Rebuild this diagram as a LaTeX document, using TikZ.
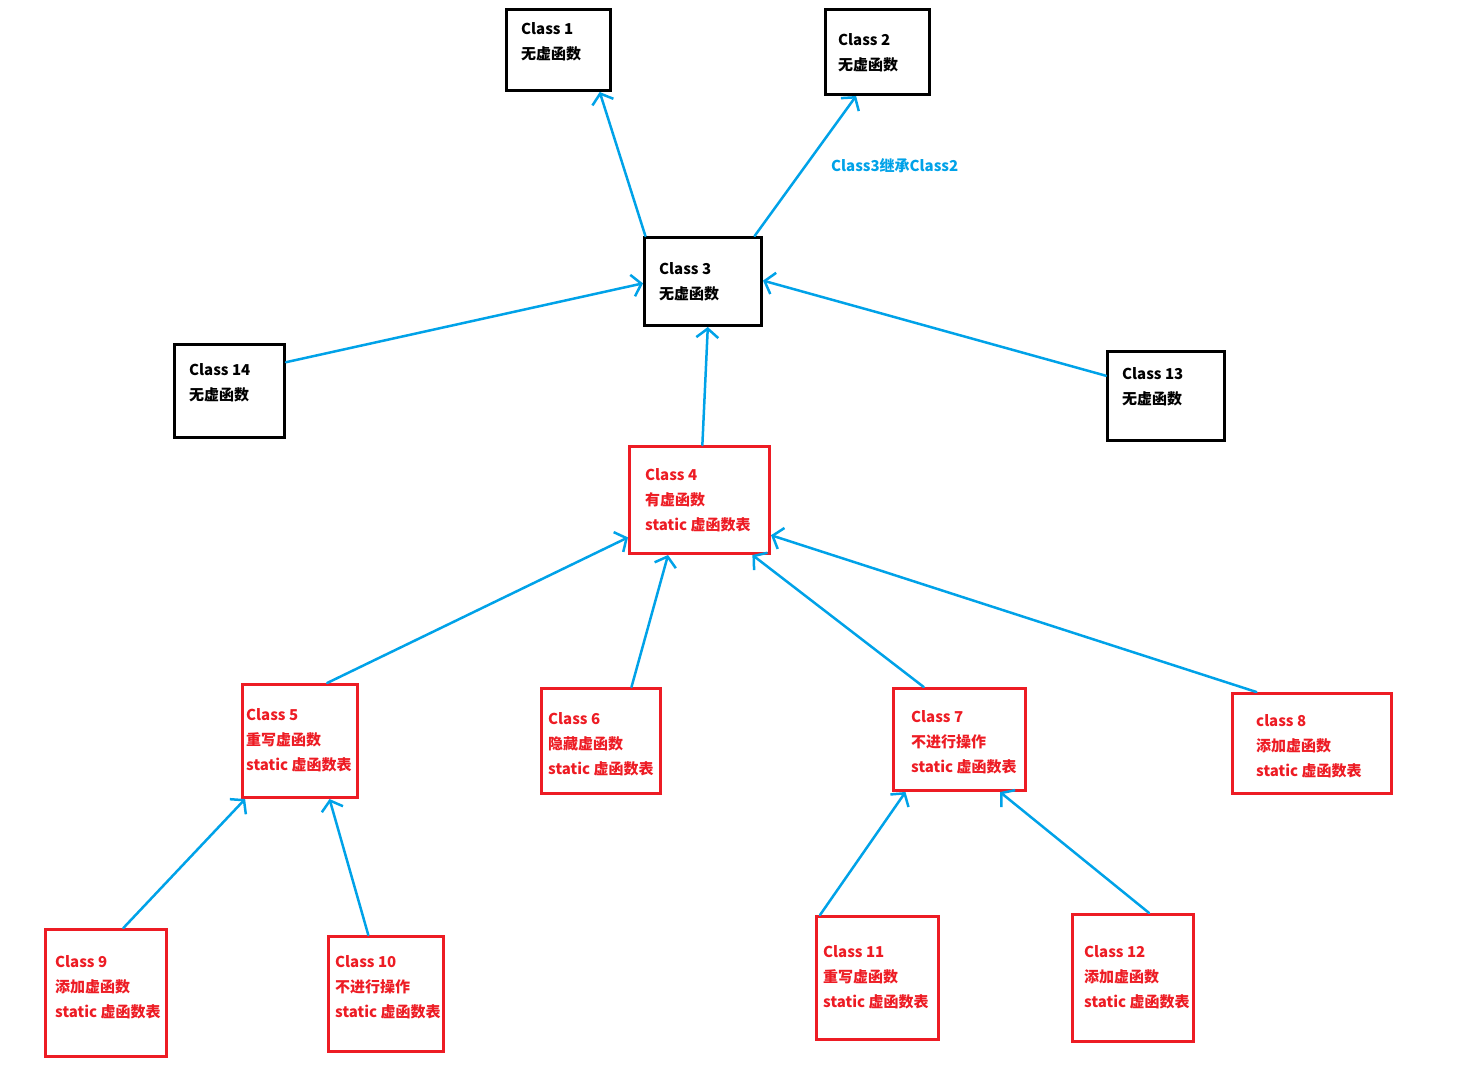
\documentclass[tikz,border=0pt]{standalone}
\usepackage{fontspec}
\setmainfont{Noto Sans CJK SC}
\usetikzlibrary{arrows.meta,calc}
\definecolor{boxred}{RGB}{237,28,36}
\definecolor{linkblue}{RGB}{0,162,232}
\tikzset{
  bbox/.style={draw=black, line width=3pt, rectangle, inner sep=0pt, anchor=north west},
  rbox/.style={bbox, draw=boxred},
  btxt/.style={anchor=north west, inner sep=0pt, align=left, font=\bfseries\fontsize{15}{25}\selectfont},
  rtxt/.style={btxt, text=boxred},
  link/.style={draw=linkblue, line width=2.5pt, line cap=round, -{Straight Barb[length=9pt,width=22pt,line width=2.5pt]}},
}
\begin{document}
\begin{tikzpicture}[x=1pt,y=-1pt]
\useasboundingbox (0,0) rectangle (1460,1088);
% black boxes
\node[bbox, minimum width=104pt, minimum height=81pt] (c1) at (505,8) {};
\node[bbox, minimum width=104pt, minimum height=85pt] (c2) at (824,8) {};
\node[bbox, minimum width=117pt, minimum height=88pt] (c3) at (643,236) {};
\node[bbox, minimum width=110pt, minimum height=93pt] (c14) at (173,343) {};
\node[bbox, minimum width=117pt, minimum height=89pt] (c13) at (1106,350) {};
% red boxes
\node[rbox, minimum width=140pt, minimum height=107pt] (c4) at (628,445) {};
\node[rbox, minimum width=115pt, minimum height=113pt] (c5) at (241,683) {};
\node[rbox, minimum width=119pt, minimum height=105pt] (c6) at (540,687) {};
\node[rbox, minimum width=132pt, minimum height=102pt] (c7) at (892,687) {};
\node[rbox, minimum width=159pt, minimum height=100pt] (c8) at (1231,692) {};
\node[rbox, minimum width=121pt, minimum height=127pt] (c9) at (44,928) {};
\node[rbox, minimum width=115pt, minimum height=115pt] (c10) at (327,935) {};
\node[rbox, minimum width=122pt, minimum height=123pt] (c11) at (815,915) {};
\node[rbox, minimum width=121pt, minimum height=127pt] (c12) at (1071,913) {};
% texts
\node[btxt] (t1) at (521,22) {Class 1\\无虚函数};
\node[btxt] (t2) at (838,33) {Class 2\\无虚函数};
\node[btxt] (t3) at (659,262) {Class 3\\无虚函数};
\node[btxt] (t14) at (189,363) {Class 14\\无虚函数};
\node[btxt] (t13) at (1122,367) {Class 13\\无虚函数};
\node[rtxt] (t4) at (645,468) {Class 4\\有虚函数\\static 虚函数表};
\node[rtxt] (t5) at (246,708) {Class 5\\重写虚函数\\static 虚函数表};
\node[rtxt] (t6) at (548,712) {Class 6\\隐藏虚函数\\static 虚函数表};
\node[rtxt] (t7) at (911,710) {Class 7\\不进行操作\\static 虚函数表};
\node[rtxt] (t8) at (1256,714) {class 8\\添加虚函数\\static 虚函数表};
\node[rtxt] (t9) at (55,955) {Class 9\\添加虚函数\\static 虚函数表};
\node[rtxt] (t10) at (335,955) {Class 10\\不进行操作\\static 虚函数表};
\node[rtxt] (t11) at (823,945) {Class 11\\重写虚函数\\static 虚函数表};
\node[rtxt] (t12) at (1084,945) {Class 12\\添加虚函数\\static 虚函数表};
\node[anchor=west, inner sep=0pt, text=linkblue, font=\bfseries\fontsize{15}{18}\selectfont] (lbl) at (831,166) {Class3继承Class2};
% connectors
\draw[link] ($(c3.north west)!0.02!(c3.north east)$) -- ($(c1.south west)!0.885!(c1.south east)$);
\draw[link] ($(c3.north west)!0.93!(c3.north east)$) -- ($(c2.south west)!0.30!(c2.south east)$);
\draw[link] ($(c14.north east)!0.2!(c14.south east)$) -- ($(c3.north west)!0.52!(c3.south west)$);
\draw[link] ($(c13.north west)!0.28!(c13.south west)$) -- ($(c3.north east)!0.49!(c3.south east)$);
\draw[link] ($(c4.north west)!0.52!(c4.north east)$) -- ($(c3.south west)!0.54!(c3.south east)$);
\draw[link] ($(c5.north west)!0.73!(c5.north east)$) -- ($(c4.north west)!0.84!(c4.south west)$);
\draw[link] ($(c6.north west)!0.75!(c6.north east)$) -- ($(c4.south west)!0.28!(c4.south east)$);
\draw[link] ($(c7.north west)!0.235!(c7.north east)$) -- ($(c4.south west)!0.87!(c4.south east)$);
\draw[link] ($(c8.north west)!0.157!(c8.north east)$) -- ($(c4.north east)!0.82!(c4.south east)$);
\draw[link] ($(c9.north west)!0.64!(c9.north east)$) -- ($(c5.south west)!0.035!(c5.south east)$);
\draw[link] ($(c10.north west)!0.35!(c10.north east)$) -- ($(c5.south west)!0.75!(c5.south east)$);
\draw[link] ($(c11.north west)!0.04!(c11.north east)$) -- ($(c7.south west)!0.10!(c7.south east)$);
\draw[link] ($(c12.north west)!0.63!(c12.north east)$) -- ($(c7.south west)!0.80!(c7.south east)$);
\end{tikzpicture}
\end{document}
